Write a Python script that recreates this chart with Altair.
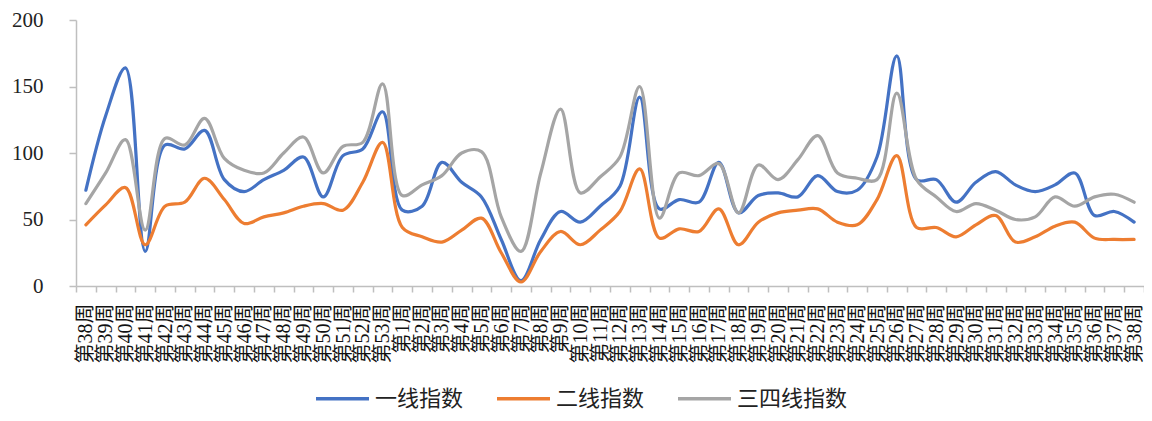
import altair as alt
import pandas as pd

weeks = [f"第{w}周" for w in range(38, 54)] + [f"第{w}周" for w in range(1, 39)]

tier1 = [72, 128, 164, 26, 106, 103, 117, 80, 71, 80, 87, 97, 67, 98, 103, 131,
         57, 60, 93, 78, 67, 35, 4, 35, 56, 48, 60, 75, 142, 58, 65, 63, 93, 55,
         68, 70, 67, 83, 71, 72, 97, 173, 80, 80, 63, 78, 86, 76, 71, 76, 85, 53, 56, 48]
tier2 = [46, 61, 74, 31, 60, 63, 81, 65, 47, 52, 55, 60, 62, 57, 78, 108,
         44, 37, 33, 42, 51, 25, 3, 26, 41, 31, 42, 56, 88, 36, 43, 41, 58, 31,
         48, 55, 57, 58, 48, 46, 65, 98, 44, 44, 37, 46, 53, 33, 37, 45, 48, 36, 35, 35]
tier34 = [62, 85, 110, 42, 111, 106, 126, 96, 87, 85, 100, 112, 85, 105, 108, 152,
          68, 76, 83, 100, 101, 52, 26, 85, 133, 70, 82, 97, 150, 51, 85, 83, 92, 55,
          91, 80, 95, 113, 85, 81, 80, 145, 80, 67, 56, 62, 57, 50, 52, 67, 60, 67, 69, 63]

series_names = ["一线指数", "二线指数", "三四线指数"]
series_colors = ["#4472C4", "#ED7D31", "#A5A5A5"]

rows = []
for name, vals in zip(series_names, [tier1, tier2, tier34]):
    for i, v in enumerate(vals):
        rows.append({"idx": i, "series": name, "value": v})
df = pd.DataFrame(rows)

label_expr = "[" + ",".join(f"'{w}'" for w in weeks) + "][datum.value]"
axis_gray = "#BFBFBF"

chart = alt.Chart(df).mark_line(
    interpolate="catmull-rom", strokeWidth=3.2, strokeCap="round", strokeJoin="round"
).encode(
    x=alt.X(
        "idx:O",
        scale=alt.Scale(type="band", paddingInner=0, paddingOuter=0),
        bandPosition=0.5,
        axis=alt.Axis(
            title=None, labelExpr=label_expr, labelAngle=270, labelAlign="right",
            labelBaseline="middle", labelFontSize=20,
            labelFont="Liberation Serif, Noto Sans CJK SC", labelColor="#111",
            labelPadding=11, tickSize=6, tickColor=axis_gray, tickWidth=1.5,
            domainColor=axis_gray, domainWidth=1.5, tickBand="extent",
            labelOverlap=False, grid=False,
        ),
    ),
    y=alt.Y(
        "value:Q",
        scale=alt.Scale(domain=[0, 200], nice=False),
        axis=alt.Axis(
            title=None, values=[0, 50, 100, 150, 200], grid=False, tickSize=7,
            tickColor=axis_gray, tickWidth=1.5, domainColor=axis_gray, domainWidth=1.5,
            labelPadding=26, labelFontSize=21, labelFont="Liberation Serif",
            labelColor="#222",
        ),
    ),
    color=alt.Color(
        "series:N",
        scale=alt.Scale(domain=series_names, range=series_colors),
        sort=series_names,
        legend=alt.Legend(
            title=None, orient="none", legendX=238, legendY=350, direction="horizontal",
            symbolType="stroke", symbolSize=2809, symbolStrokeWidth=3.5,
            labelFontSize=22, labelFont="Noto Sans CJK SC", labelColor="#222",
            labelOffset=4, columnPadding=26,
        ),
    ),
    detail="series:N",
).properties(
    width=1068,
    height=266,
    autosize=alt.AutoSizeParams(type="none"),
    padding={"left": 68, "top": 12, "right": 0, "bottom": 127},
).configure(background="white").configure_view(stroke=None)

chart.save("out.html", embed_options={"renderer": "svg", "actions": False})
